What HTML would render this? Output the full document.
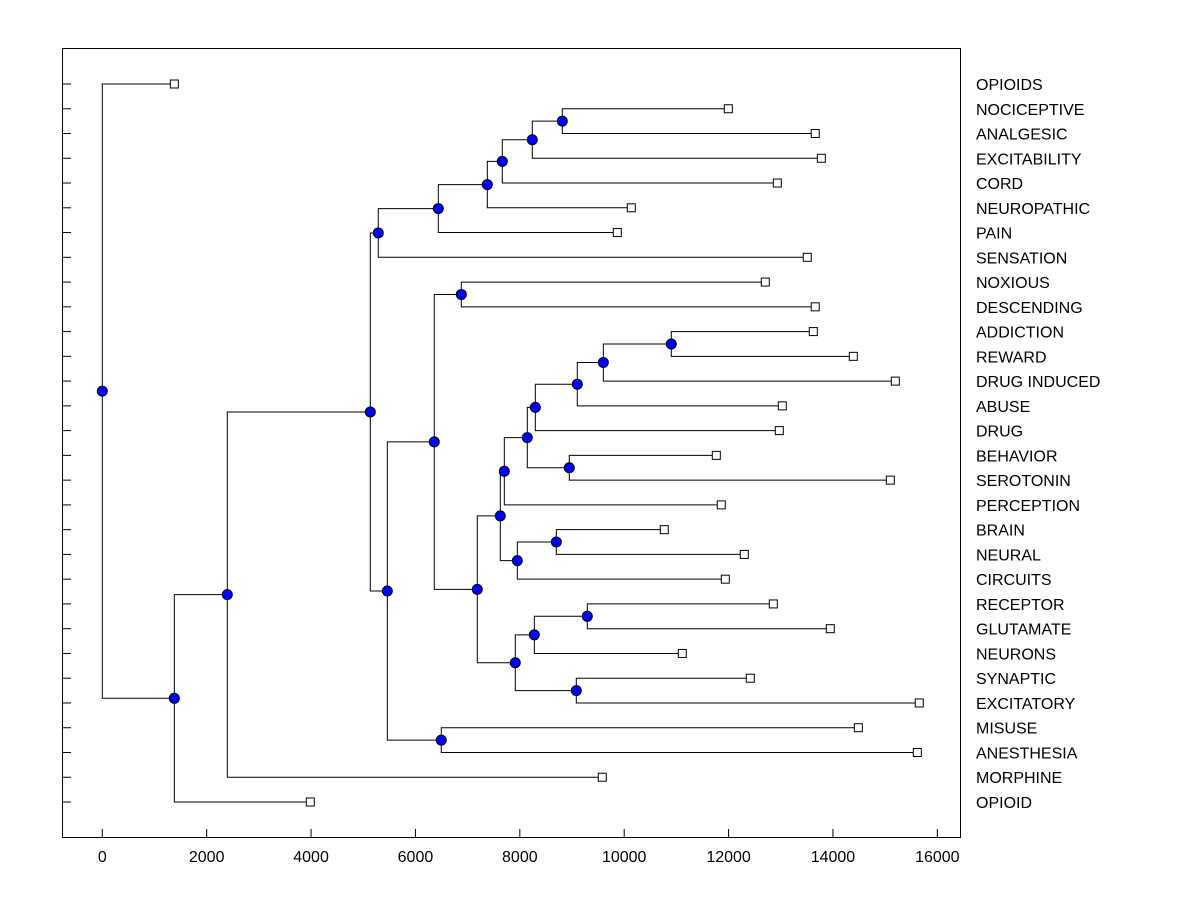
<!DOCTYPE html>
<html><head><meta charset="utf-8"><style>
body{margin:0;background:#fff;}
svg{display:block;font-family:"Liberation Sans",Arial,sans-serif;}
</style></head><body>
<svg id="chart" width="1200" height="900" viewBox="0 0 1200 900">
<rect x="62.5" y="48.5" width="898" height="789" fill="#fff" stroke="#000" stroke-width="1"/>
<g id="marks"></g>
</svg>
<script>
const leafLabels = ["OPIOIDS","NOCICEPTIVE","ANALGESIC","EXCITABILITY","CORD","NEUROPATHIC","PAIN","SENSATION","NOXIOUS","DESCENDING","ADDICTION","REWARD","DRUG INDUCED","ABUSE","DRUG","BEHAVIOR","SEROTONIN","PERCEPTION","BRAIN","NEURAL","CIRCUITS","RECEPTOR","GLUTAMATE","NEURONS","SYNAPTIC","EXCITATORY","MISUSE","ANESTHESIA","MORPHINE","OPIOID"];
const leafValues = [1380,11995,13660,13777,12934,10136,9868,13508,12703,13660,13623,14390,15195,13029,12972,11765,15099,11860,10768,12301,11937,12857,13949,11113,12416,15654,14486,15616,9580,3985];
// merge nodes: [name, value, child1, child2]; children are leaf labels or node names
const mergeNodes = [
 ["J",8814,"NOCICEPTIVE","ANALGESIC"],
 ["I",8239,"J","EXCITABILITY"],
 ["H",7664,"I","CORD"],
 ["G",7377,"H","NEUROPATHIC"],
 ["F",6438,"G","PAIN"],
 ["D",5288,"F","SENSATION"],
 ["M",6879,"NOXIOUS","DESCENDING"],
 ["X",10902,"ADDICTION","REWARD"],
 ["W",9600,"X","DRUG INDUCED"],
 ["V",9101,"W","ABUSE"],
 ["T",8297,"V","DRUG"],
 ["U",8948,"BEHAVIOR","SEROTONIN"],
 ["S",8143,"T","U"],
 ["Q",7703,"S","PERCEPTION"],
 ["Y",8699,"BRAIN","NEURAL"],
 ["R",7952,"Y","CIRCUITS"],
 ["O",7626,"Q","R"],
 ["AB",9293,"RECEPTOR","GLUTAMATE"],
 ["Z",8278,"AB","NEURONS"],
 ["AA",9082,"SYNAPTIC","EXCITATORY"],
 ["P",7913,"Z","AA"],
 ["N",7185,"O","P"],
 ["K",6361,"M","N"],
 ["L",6495,"MISUSE","ANESTHESIA"],
 ["E",5461,"K","L"],
 ["C",5135,"D","E"],
 ["B",2395,"C","MORPHINE"],
 ["A",1380,"B","OPIOID"],
 ["ROOT",0,"OPIOIDS","A"]
];
const xTicks = [0,2000,4000,6000,8000,10000,12000,14000,16000];

const NS="http://www.w3.org/2000/svg";
const g=document.getElementById('marks');
const xs=v=>102.3+v*0.05219;
const ys=i=>84+i*(802-84)/29;
function el(t,a){const e=document.createElementNS(NS,t);for(const k in a)e.setAttribute(k,a[k]);g.appendChild(e);return e;}

const pos={};
leafLabels.forEach((l,i)=>{pos[l]={x:xs(leafValues[i]),y:ys(i)};});
mergeNodes.forEach(n=>{const a=pos[n[2]],b=pos[n[3]];pos[n[0]]={x:xs(n[1]),y:(a.y+b.y)/2};});

// branches
mergeNodes.forEach(n=>{
  const p=pos[n[0]];
  const pa=pos[n[2]],pb=pos[n[3]];
  const path=el('path',{d:`M${pa.x},${pa.y}H${p.x}V${pb.y}H${pb.x}`,fill:'none',stroke:'#000','stroke-width':1});
  
  
});
// left ticks & labels & leaf squares
leafLabels.forEach((l,i)=>{
  const y=ys(i);
  const t=el('line',{x1:62,x2:71,y1:y,y2:y,stroke:'#000'});
  
  
  const p=pos[l];
  const s=el('rect',{x:p.x-4,y:y-4,width:8,height:8,fill:'#fff',stroke:'#000'});
  
  
  const tx=el('text',{x:976,y:y+6,'font-size':16,fill:'#000'});
  tx.textContent=l;
  
  
});
// node circles
mergeNodes.forEach(n=>{
  const p=pos[n[0]];
  const c=el('circle',{cx:p.x,cy:p.y,r:5,fill:'#0000ff',stroke:'#000','stroke-width':1});
  
  
});
// x ticks
xTicks.forEach(v=>{
  const x=xs(v);
  const t=el('line',{x1:x,x2:x,y1:829,y2:837,stroke:'#000'});
  
  
  const tx=el('text',{x:x,y:862,'font-size':16,'text-anchor':'middle',fill:'#000'});
  tx.textContent=v;
  
  
});
</script>
</body></html>
